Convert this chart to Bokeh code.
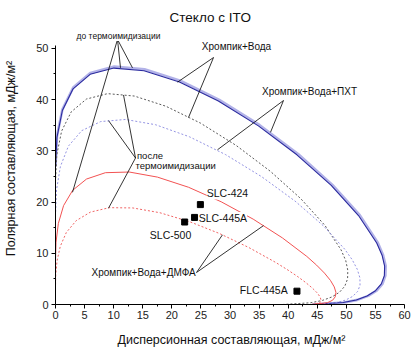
from bokeh.plotting import figure
from bokeh.models import Label, FixedTicker, Range1d
from bokeh.embed import file_html
from bokeh.resources import INLINE

# --- wetting envelopes (dispersive x, polar y), mJ/m^2 ---
# Хромпик+Вода, до термоимидизации (navy solid)
cw_before_x = [44.0, 49.45, 51.70, 53.55, 55.00, 56.0, 56.52, 56.57, 56.13, 55.21, 52.08, 47.39,
               41.49, 34.87, 27.99, 21.30, 15.21, 10.03, 5.95, 3.02, 1.18, 0.25, 0.0]
cw_before_y = [0.0, 0.38, 0.89, 1.67, 2.70, 4.02, 5.62, 7.50, 9.63, 12.01, 17.36, 23.24,
               29.22, 34.87, 39.74, 43.44, 45.63, 46.15, 44.93, 42.10, 37.87, 32.64, 26.8]
# Хромпик+Вода+ПХТ, до (lavender thick solid)
cwp_before_x = [44.2, 49.6, 51.9, 53.75, 55.2, 56.2, 56.7, 56.75, 56.3, 55.4, 52.3, 47.6,
                41.7, 35.05, 28.15, 21.45, 15.3, 10.1, 5.98, 3.04, 1.19, 0.25, 0.0]
cwp_before_y = [0.0, 0.38, 0.90, 1.68, 2.71, 4.03, 5.64, 7.53, 9.67, 12.06, 17.45, 23.35,
                29.38, 35.05, 39.95, 43.7, 45.9, 46.45, 45.2, 42.35, 38.1, 32.85, 26.95]
# Хромпик+Вода, после (dark dashed)
cw_after_x = [39.0, 43.86, 45.86, 47.52, 48.82, 49.72, 50.20, 50.24, 49.89, 49.08, 46.31, 42.15,
              36.93, 31.05, 24.93, 18.98, 13.56, 8.95, 5.32, 2.70, 1.05, 0.22, 0.0]
cw_after_y = [0.0, 0.34, 0.79, 1.48, 2.40, 3.57, 4.99, 6.66, 8.56, 10.67, 15.44, 20.67,
              26.0, 31.05, 35.40, 38.70, 40.69, 41.16, 40.11, 37.60, 33.85, 29.21, 24.0]
# Хромпик+Вода+ПХТ, после (blue dashed)
cwp_after_x = [44.0, 48.25, 49.86, 51.09, 51.93, 52.34, 52.32, 51.87, 50.99, 49.70, 46.05, 41.17,
               35.43, 29.25, 23.04, 17.21, 12.04, 7.77, 4.50, 2.22, 0.84, 0.17, 0.0]
cwp_after_y = [0.0, 0.37, 0.86, 1.59, 2.55, 3.76, 5.20, 6.87, 8.75, 10.81, 15.35, 20.19,
               24.95, 29.25, 32.73, 35.09, 36.12, 35.71, 33.93, 30.92, 26.93, 22.35, 17.5]
# Хромпик+Вода+ДМФА, до (red solid)
cwd_before_x = [44.0, 46.75, 47.61, 48.08, 48.20, 47.91, 47.26, 46.23, 44.87, 43.19, 39.0, 33.98,
                28.48, 22.88, 17.52, 12.68, 8.58, 5.33, 2.95, 1.39, 0.49, 0.09, 0.0]
cwd_before_y = [0.0, 0.36, 0.82, 1.50, 2.37, 3.44, 4.70, 6.13, 7.69, 9.39, 13.0, 16.66,
                20.05, 22.88, 24.87, 25.86, 25.73, 24.49, 22.29, 19.31, 15.82, 12.16, 8.6]
# Хромпик+Вода+ДМФА, после (red dashed)
cwd_after_x = [44.0, 45.46, 45.65, 45.50, 45.03, 44.18, 43.02, 41.55, 39.81, 37.83, 33.28, 28.22,
               22.99, 17.92, 13.28, 9.26, 6.01, 3.56, 1.86, 0.82, 0.26, 0.04, 0.0]
cwd_after_y = [0.0, 0.35, 0.79, 1.42, 2.21, 3.17, 4.28, 5.51, 6.83, 8.22, 11.09, 13.84,
               16.19, 17.92, 18.85, 18.90, 18.04, 16.37, 14.06, 11.35, 8.48, 5.74, 3.36]

# liquid crystals
pt_names = ["SLC-424", "SLC-445A", "SLC-500", "FLC-445A"]
pt_x = [24.9, 23.9, 22.2, 41.5]
pt_y = [19.5, 17.0, 16.1, 2.6]

x_ticks = [0, 5, 10, 15, 20, 25, 30, 35, 40, 45, 50, 55, 60]
x_minor = [2.5, 7.5, 12.5, 17.5, 22.5, 27.5, 32.5, 37.5, 42.5, 47.5, 52.5, 57.5]
y_ticks = [0, 10, 20, 30, 40, 50]
y_minor = [5, 15, 25, 35, 45]

# leader lines (start at label, end on curve)
lead_x0 = [10.66, 10.66, 10.66, 13.75, 13.75, 13.75, 27.16, 27.16, 39.19, 39.19, 24.24, 24.24]
lead_y0 = [51.73, 51.73, 51.73, 28.6, 28.6, 28.6, 48.21, 48.21, 39.82, 39.82, 6.25, 6.25]
lead_x1 = [11.17, 13.23, 2.92, 11.69, 9.11, 9.11, 20.97, 22.86, 36.95, 27.84, 28.7, 35.75]
lead_y1 = [46.2, 46.2, 21.9, 40.9, 35.9, 18.8, 43.4, 36.5, 33.6, 30.2, 13.6, 15.4]

FONT = "Liberation Sans"

p = figure(width=415, height=351, x_range=Range1d(0, 60.5), y_range=Range1d(0, 57),
           output_backend="svg", toolbar_location=None,
           min_border_left=55, min_border_right=8, min_border_top=12, min_border_bottom=47)
p.outline_line_color = None
p.xgrid.visible = False
p.ygrid.visible = False

p.line(cwp_before_x, cwp_before_y, line_color="#a4a4e4", line_width=2.6, line_alpha=0.85)
p.line(cw_before_x, cw_before_y, line_color="#2a2a9e", line_width=1.1)
p.line(cw_after_x, cw_after_y, line_color="#5a5a5a", line_width=1.0, line_dash="2 2")
p.line(cwp_after_x, cwp_after_y, line_color="#9494e2", line_width=1.0, line_dash="2 2")
p.line(cwd_before_x, cwd_before_y, line_color="#f25252", line_width=1.0)
p.line(cwd_after_x, cwd_after_y, line_color="#f06464", line_width=1.0, line_dash="2 2")

p.segment(lead_x0, lead_y0, lead_x1, lead_y1, line_color="black", line_width=0.8)

p.scatter(pt_x, pt_y, marker="square", size=6, fill_color="black", line_color="black")

def lab(x, y, text, size, align="center", bg=True):
    l = Label(x=x, y=y, text=text, text_align=align, text_baseline="middle",
              text_font=FONT, text_font_size=size, text_color="#111111")
    if bg:
        l.background_fill_color = "white"
    p.add_layout(l)

lab(26.6, 56.0, "Стекло с ITO", "13.5px", bg=False)
lab(10.83, 52.4, "до термоимидизации", "8.5px")
lab(31.11, 50.36, "Хромпик+Вода", "10px")
lab(43.66, 41.58, "Хромпик+Вода+ПХТ", "10px")
lab(14.0, 29.1, "после", "9.5px", align="left")
lab(13.75, 27.1, "термоимидизации", "9.5px", align="left")
lab(29.56, 21.67, pt_names[0], "10.5px")
lab(24.6, 16.9, pt_names[1], "10.5px", align="left")
lab(19.77, 13.6, pt_names[2], "10.5px")
lab(24.1, 6.25, "Хромпик+Вода+ДМФА", "10px", align="right")
lab(39.9, 2.75, pt_names[3], "10.5px", align="right")

for ax in (p.xaxis, p.yaxis):
    ax.axis_line_color = "black"
    ax.major_tick_line_color = "black"
    ax.minor_tick_line_color = "black"
    ax.major_tick_in = 0
    ax.major_tick_out = 4
    ax.minor_tick_in = 0
    ax.minor_tick_out = 2
    ax.major_label_text_font = FONT
    ax.major_label_text_font_size = "11px"
    ax.major_label_text_color = "#222222"
    ax.axis_label_text_font = FONT
    ax.axis_label_text_font_size = "12.5px"
    ax.axis_label_text_font_style = "normal"
    ax.axis_label_text_color = "#111111"

p.xaxis.ticker = FixedTicker(ticks=x_ticks, minor_ticks=x_minor)
p.yaxis.ticker = FixedTicker(ticks=y_ticks, minor_ticks=y_minor)
p.xaxis.bounds = (0, 60)
p.yaxis.bounds = (0, 50.5)
p.xaxis.major_label_standoff = 2
p.yaxis.major_label_standoff = 3
p.xaxis.axis_label = "Дисперсионная составляющая, мДж/м²"
p.yaxis.axis_label = "Полярная составляющая, мДж/м²"
p.xaxis.axis_label_standoff = 11
p.yaxis.axis_label_standoff = 15

open("out.html", "w").write(file_html(p, INLINE))
